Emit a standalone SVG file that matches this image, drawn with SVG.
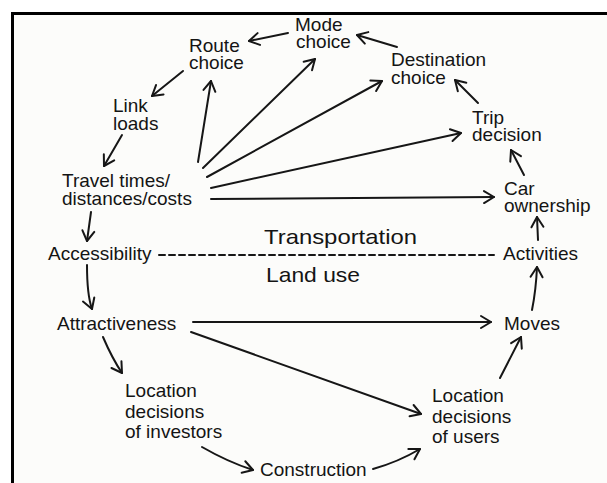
<svg xmlns="http://www.w3.org/2000/svg" width="607" height="483" viewBox="0 0 607 483">
<defs>
<style>
.t{font-family:"Liberation Sans",Arial,sans-serif;font-size:19px;fill:#141414}
.big{font-family:"Liberation Sans",Arial,sans-serif;font-size:21px;fill:#141414}
.c{fill:none;stroke:#161616;stroke-width:2;stroke-linecap:round}
</style>
<marker id="ah" markerUnits="userSpaceOnUse" viewBox="0 0 12 14" refX="11" refY="7" markerWidth="12" markerHeight="14" orient="auto" overflow="visible">
<path d="M1,1 L11,7 L1,13" fill="none" stroke="#161616" stroke-width="2" stroke-linecap="round" stroke-linejoin="round"/>
</marker>
</defs>
<rect x="0" y="0" width="607" height="483" fill="#ffffff"/>
<rect x="12.5" y="13.5" width="600" height="480" fill="#fcfcfa"/>
<line x1="11" y1="13.5" x2="607" y2="13.5" stroke="#000" stroke-width="3"/>
<line x1="12.5" y1="12" x2="12.5" y2="483" stroke="#000" stroke-width="3"/>

<g id="connectors">
<path class="c" marker-end="url(#ah)" d="M288,33 L249,41"/>
<path class="c" marker-end="url(#ah)" d="M183,71 L152,96"/>
<path class="c" marker-end="url(#ah)" d="M122,135 L104,166"/>
<path class="c" marker-end="url(#ah)" d="M91,212 L87,241"/>
<path class="c" marker-end="url(#ah)" d="M87,265 Q87,295 92,309"/>
<path class="c" marker-end="url(#ah)" d="M103,337 Q112,358 122,373"/>
<path class="c" marker-end="url(#ah)" d="M202,447 Q228,462 253,470"/>
<path class="c" marker-end="url(#ah)" d="M373,469 Q398,462 420,449"/>
<path class="c" marker-end="url(#ah)" d="M191,332 L421,414"/>
<path class="c" marker-end="url(#ah)" d="M193,322 L491,322"/>
<path class="c" marker-end="url(#ah)" d="M500,378 L521,337"/>
<path class="c" marker-end="url(#ah)" d="M532,310 Q536,290 537,267"/>
<path class="c" marker-end="url(#ah)" d="M538,240 L537,217"/>
<path class="c" marker-end="url(#ah)" d="M524,175 L511,150"/>
<path class="c" marker-end="url(#ah)" d="M478,103 L455,80"/>
<path class="c" marker-end="url(#ah)" d="M397,47 L357,35"/>
<path class="c" marker-end="url(#ah)" d="M198,162 L211,81"/>
<path class="c" marker-end="url(#ah)" d="M203,168 L315,59"/>
<path class="c" marker-end="url(#ah)" d="M207,177 L382,81"/>
<path class="c" marker-end="url(#ah)" d="M211,188 L461,133"/>
<path class="c" marker-end="url(#ah)" d="M211,199 L494,197"/>
<path class="c" d="M159,255 L494,255" stroke-dasharray="6,4" stroke-linecap="butt"/>
</g>

<g id="mode-choice"><text class="t" x="295" y="31">Mode<tspan x="296" dy="17">choice</tspan></text></g>
<g id="route-choice"><text class="t" x="189" y="52">Route<tspan x="189" dy="17">choice</tspan></text></g>
<g id="destination-choice"><text class="t" x="391" y="66">Destination<tspan x="391" dy="18">choice</tspan></text></g>
<g id="trip-decision"><text class="t" x="472" y="124">Trip<tspan x="472" dy="17">decision</tspan></text></g>
<g id="link-loads"><text class="t" x="113" y="112">Link<tspan x="113" dy="18">loads</tspan></text></g>
<g id="travel-times"><text class="t" x="62" y="187">Travel times/<tspan x="62" dy="17.5">distances/costs</tspan></text></g>
<g id="car-ownership"><text class="t" x="504" y="195">Car<tspan x="504" dy="17">ownership</tspan></text></g>
<g id="accessibility"><text class="t" x="48" y="260">Accessibility</text></g>
<g id="activities"><text class="t" x="503" y="260">Activities</text></g>
<g id="attractiveness"><text class="t" x="57" y="330">Attractiveness</text></g>
<g id="moves"><text class="t" x="504" y="330">Moves</text></g>
<g id="location-investors"><text class="t" x="125" y="397">Location<tspan x="125" dy="21">decisions</tspan><tspan x="125" dy="20">of investors</tspan></text></g>
<g id="location-users"><text class="t" x="432" y="402">Location<tspan x="432" dy="21">decisions</tspan><tspan x="432" dy="20">of users</tspan></text></g>
<g id="construction"><text class="t" x="260" y="476">Construction</text></g>
<g id="labels">
<text class="big" x="264" y="244" textLength="153" lengthAdjust="spacingAndGlyphs">Transportation</text>
<text class="big" x="266" y="282" textLength="94" lengthAdjust="spacingAndGlyphs">Land use</text>
</g>
</svg>
